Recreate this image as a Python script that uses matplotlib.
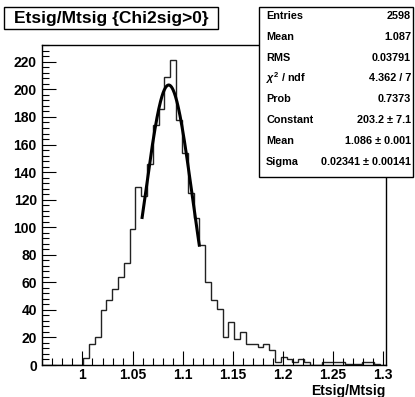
import numpy as np
import matplotlib
matplotlib.use("Agg")
import matplotlib.pyplot as plt
from matplotlib.ticker import MultipleLocator

plt.rcParams["font.family"] = ["Liberation Sans", "DejaVu Sans"]
plt.rcParams["font.weight"] = "bold"
plt.rcParams["mathtext.fontset"] = "custom"
plt.rcParams["mathtext.rm"] = "Liberation Sans"
plt.rcParams["mathtext.it"] = "Liberation Sans:italic"

# Etsig/Mtsig histogram, 59 bins of 0.0058 starting at 0.96
x_low = 0.96
bin_width = 0.0058
counts = [0, 0, 0, 0, 0, 0, 0,
          5, 15, 20, 40, 47, 55, 64, 74, 99, 129,
          123, 146, 174, 186, 209, 221, 178, 154, 125, 107,
          87, 60, 47, 41, 20, 31, 19, 24, 15, 15,
          13, 15, 11, 2, 6, 4, 2, 4, 2, 0,
          0, 2, 2, 2, 2, 1, 1, 1, 2, 2,
          1, 0]

# gaus fit result
fit_const = 203.2
fit_mean = 1.086
fit_sigma = 0.02341
fit_range = (1.0595, 1.1165)

stat_labels = ["Entries", "Mean", "RMS", r"$\chi^2$ / ndf", "Prob",
               "Constant", "Mean", "Sigma"]
stat_values = ["2598", "1.087", "0.03791", "4.362 / 7", "0.7373",
               "203.2 \u00b1 7.1", "1.086 \u00b1 0.001", "0.02341 \u00b1 0.00141"]

edges = x_low + bin_width * np.arange(len(counts) + 1)

fig = plt.figure(figsize=(4.15, 3.97), dpi=100)
ax = fig.add_axes([0.102, 0.0806, 0.827, 0.8054])

ax.stairs(counts, edges, color="#222222", linewidth=1.0)

xf = np.linspace(fit_range[0], fit_range[1], 200)
yf = fit_const * np.exp(-0.5 * ((xf - fit_mean) / fit_sigma) ** 2)
ax.plot(xf, yf, color="black", linewidth=2.2)

ax.set_xlim(x_low, edges[-1])
ax.set_ylim(0, 1.05 * max(counts))
ax.xaxis.set_major_locator(MultipleLocator(0.05))
ax.xaxis.set_minor_locator(MultipleLocator(0.01))
ax.yaxis.set_major_locator(MultipleLocator(20))
ax.yaxis.set_minor_locator(MultipleLocator(4))
ax.set_xticks([1.0, 1.05, 1.1, 1.15, 1.2, 1.25, 1.3])
ax.set_xticklabels(["1", "1.05", "1.1", "1.15", "1.2", "1.25", "1.3"])
ax.tick_params(which="both", direction="in", top=False, right=False,
               labelsize=10, width=0.8)
ax.tick_params(which="major", length=10, pad=4)
ax.tick_params(axis="x", which="major", pad=2)
ax.tick_params(which="minor", length=5)
for lab in ax.get_xticklabels() + ax.get_yticklabels():
    lab.set_fontweight("bold")
for sp in ax.spines.values():
    sp.set_linewidth(1.0)

fig.text(385.7 / 415, 1 - 391 / 397, "Etsig/Mtsig", ha="right", va="center",
         fontsize=10, fontweight="bold")

# title box
fig.patches.append(plt.Rectangle((4 / 415, 1 - 29 / 397), 214 / 415, 22 / 397,
                                 transform=fig.transFigure, facecolor="white",
                                 edgecolor="black", linewidth=1.0))
fig.text(111 / 415, 1 - 18 / 397, "Etsig/Mtsig {Chi2sig>0}", ha="center",
         va="center", fontsize=12.5, fontweight="bold")

# stats box
box = plt.Rectangle((259 / 415, 1 - 177 / 397), 154 / 415, 170 / 397,
                    transform=fig.transFigure, facecolor="white",
                    edgecolor="black", linewidth=1.0, zorder=5)
fig.patches.append(box)
for i, (lab, val) in enumerate(zip(stat_labels, stat_values)):
    y = 1 - (16 + i * 20.8) / 397
    fig.text(266 / 415, y, lab, ha="left", va="center", fontsize=7.8,
             fontweight="bold", zorder=6)
    fig.text(411 / 415, y, val, ha="right", va="center", fontsize=7.8,
             fontweight="bold", zorder=6)

plt.savefig("out.png", dpi=100)
